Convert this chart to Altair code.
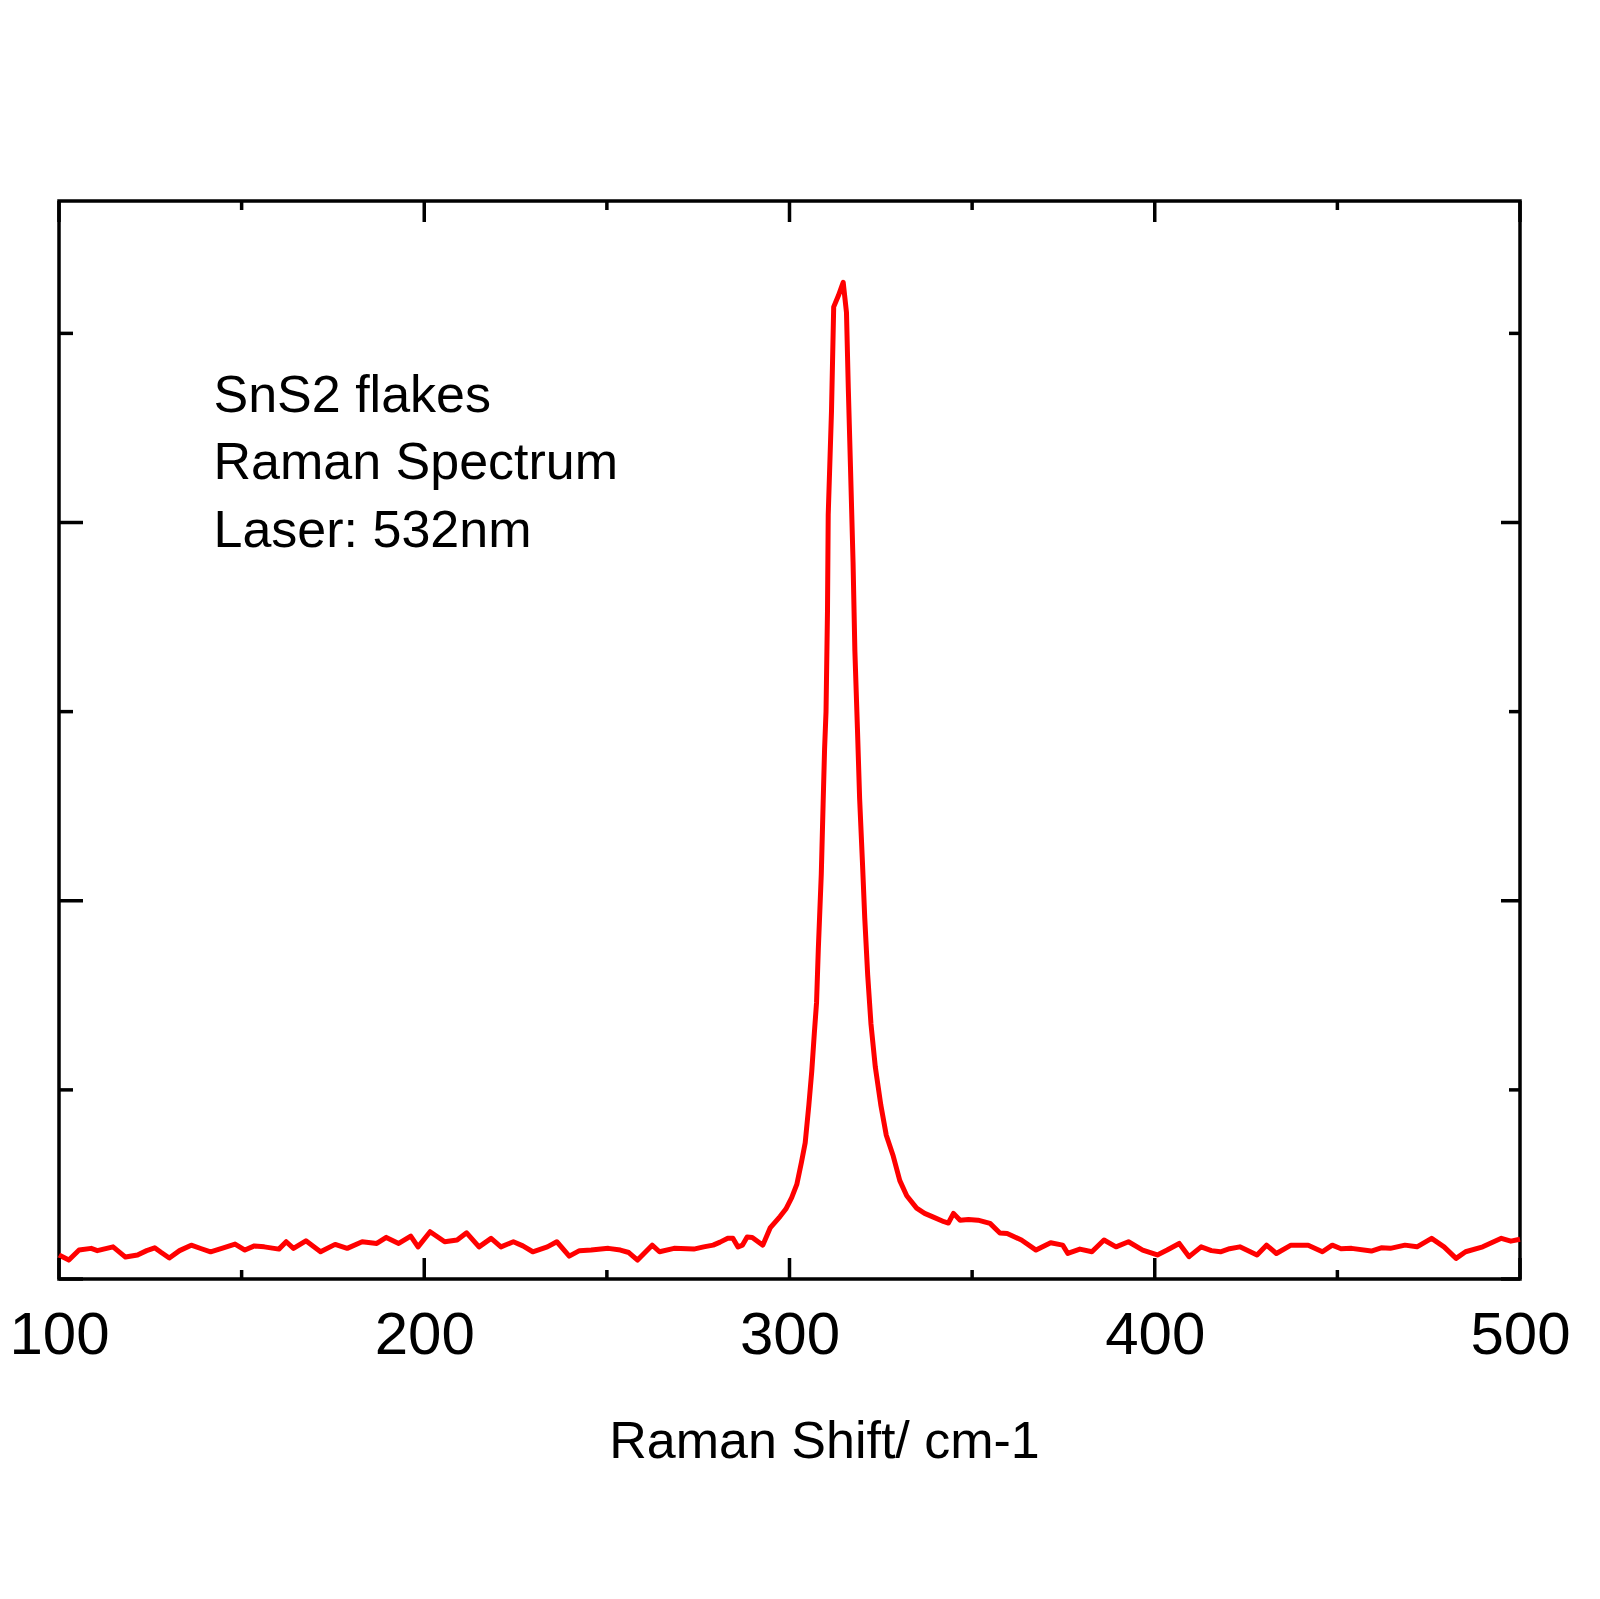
import altair as alt
import pandas as pd

# Raman shift (cm-1) and intensity (arb. units)
raman_shift = [
    100.0, 102.7, 105.5, 108.8, 110.5, 112.2, 114.8, 118.2, 121.5, 124.0,
    126.2, 128.0, 130.2, 133.0, 136.2, 139.0, 141.5, 145.0, 148.2, 150.9,
    153.5, 156.2, 160.2, 162.2, 164.2, 167.6, 171.6, 175.6, 178.9, 183.0,
    187.0, 189.6, 193.0, 196.3, 198.3, 201.6, 205.6, 209.0, 211.6, 215.0,
    218.3, 221.0, 224.4, 227.0, 229.7, 233.7, 236.3, 239.7, 242.5, 245.7,
    250.4, 253.7, 256.0, 258.4, 262.4, 264.4, 268.4, 273.8, 276.5, 279.1,
    281.0, 283.1, 284.5, 285.9, 287.1, 288.4, 289.8, 292.7,
    294.7, 297.4, 299.0, 300.6, 302.0, 303.3, 304.3, 305.3, 306.1, 306.8,
    307.4, 307.9, 308.7, 309.2, 309.6, 310.0, 310.4, 310.6, 311.5, 312.1,
    313.4, 314.7, 315.6, 316.1, 316.7, 317.4, 317.9, 318.6, 319.2, 320.0,
    320.6, 321.4, 322.3, 323.5, 325.0, 326.5, 328.4, 330.2, 332.1, 334.8,
    337.0, 339.4, 342.3, 343.5, 344.9, 346.7, 349.0, 351.6, 354.9, 357.6,
    359.6, 363.5, 367.5, 371.5, 374.8, 376.2, 379.5, 382.8, 386.1, 389.4,
    392.8, 396.7, 400.7, 403.4, 406.7, 409.4, 412.7, 415.5, 418.0, 420.5,
    423.3, 428.0, 430.6, 433.3, 437.3, 442.0, 445.9, 448.6, 451.0, 453.9,
    459.3, 462.0, 464.5, 468.5, 471.8, 475.8, 479.2, 482.5, 485.1, 489.8,
    494.9, 497.5, 500.0,
]
intensity = [
    0.127, 0.100, 0.153, 0.162, 0.150, 0.158, 0.170, 0.116, 0.127, 0.150,
    0.165, 0.140, 0.111, 0.150, 0.179, 0.160, 0.144, 0.165, 0.185, 0.153,
    0.175, 0.170, 0.158, 0.197, 0.162, 0.202, 0.144, 0.183, 0.162, 0.197,
    0.188, 0.220, 0.188, 0.227, 0.170, 0.250, 0.197, 0.206, 0.244, 0.170,
    0.215, 0.170, 0.197, 0.175, 0.144, 0.170, 0.197, 0.121, 0.150, 0.153,
    0.162, 0.153, 0.140, 0.100, 0.179, 0.144, 0.162, 0.158, 0.170, 0.179,
    0.195, 0.215, 0.216, 0.169, 0.179, 0.222, 0.220, 0.179,
    0.27, 0.33, 0.37, 0.43, 0.50, 0.62, 0.72, 0.92, 1.10, 1.30,
    1.46, 1.75, 2.14, 2.51, 2.80, 3.00, 3.53, 4.04, 4.59, 5.14,
    5.20, 5.27, 5.11, 4.71, 4.29, 3.79, 3.32, 2.91, 2.54, 2.19,
    1.91, 1.61, 1.35, 1.12, 0.92, 0.76, 0.65, 0.52, 0.44, 0.375,
    0.347, 0.327, 0.303, 0.296, 0.347, 0.311, 0.315, 0.311, 0.294, 0.243,
    0.241, 0.206, 0.153, 0.192, 0.179, 0.135, 0.158, 0.144, 0.206, 0.170,
    0.197, 0.153, 0.127, 0.153, 0.188, 0.118, 0.170, 0.150, 0.144, 0.160,
    0.170, 0.127, 0.179, 0.135, 0.179, 0.179, 0.144, 0.179, 0.160, 0.162,
    0.148, 0.165, 0.162, 0.179, 0.170, 0.215, 0.170, 0.109, 0.144, 0.170,
    0.215, 0.200, 0.210,
]

x_major_ticks = [100, 200, 300, 400, 500]
x_minor_ticks = [150, 250, 350, 450]
y_major_ticks = [0, 2, 4]
y_minor_ticks = [1, 3, 5]

note_text = ["SnS2 flakes", "Raman Spectrum", "Laser: 532nm"]
note_x = [142.3, 142.3, 142.3]
note_y = [4.586, 4.232, 3.873]

W, H = 1461, 1078
FONT = "Liberation Sans"

xscale = alt.Scale(domain=[100, 500], nice=False, zero=False)
yscale = alt.Scale(domain=[0, 5.70], nice=False, zero=False)
xaxis = alt.Axis(
    values=x_major_ticks, ticks=False, domain=False, grid=False,
    labelFontSize=60, labelFont=FONT, labelColor="black",
    labelPadding=74, labelBaseline="alphabetic", labelFlush=False,
    labelOverlap=False, format="d",
    title="Raman Shift/ cm-1", titleFontSize=52, titleFont=FONT,
    titleFontWeight="normal", titleColor="black",
    titleX=765, titleY=178, titleAlign="center", titleBaseline="alphabetic",
)


def xenc():
    return alt.X("x:Q", scale=xscale, axis=xaxis)


def yenc():
    return alt.Y("y:Q", scale=yscale, axis=None)


spec_df = pd.DataFrame({"x": raman_shift, "y": intensity})
line = alt.Chart(spec_df).mark_line(
    color="#ff0000", strokeWidth=5, strokeJoin="round"
).encode(x=xenc(), y=yenc())


def xrules(vals, y0, y1):
    return alt.Chart(pd.DataFrame({"x": vals})).mark_rule(
        color="black", strokeWidth=3.5
    ).encode(x=xenc(), y=alt.value(y0), y2=alt.value(y1))


def yrules(vals, x0, x1):
    return alt.Chart(pd.DataFrame({"y": vals})).mark_rule(
        color="black", strokeWidth=3.5
    ).encode(y=yenc(), x=alt.value(x0), x2=alt.value(x1))


ticks = [
    xrules(x_major_ticks, H, H - 21),
    xrules(x_major_ticks, 0, 21),
    xrules(x_minor_ticks, H, H - 9),
    xrules(x_minor_ticks, 0, 9),
    yrules(y_major_ticks, 0, 24),
    yrules(y_major_ticks, W, W - 19),
    yrules(y_minor_ticks, 0, 14),
    yrules(y_minor_ticks, W, W - 11),
]

notes_df = pd.DataFrame({"x": note_x, "y": note_y, "t": note_text})
notes = alt.Chart(notes_df).mark_text(
    align="left", baseline="alphabetic", fontSize=52, font=FONT, color="black"
).encode(x=xenc(), y=yenc(), text="t:N")

chart = alt.layer(line, *ticks, notes).properties(
    width=W, height=H,
    autosize=alt.AutoSizeParams(type="none"),
    padding={"left": 51, "top": 193, "right": 72, "bottom": 200},
    background="white",
).configure_view(stroke="black", strokeWidth=3.5)

chart.save("out.html", embed_options={"renderer": "svg", "actions": False})
